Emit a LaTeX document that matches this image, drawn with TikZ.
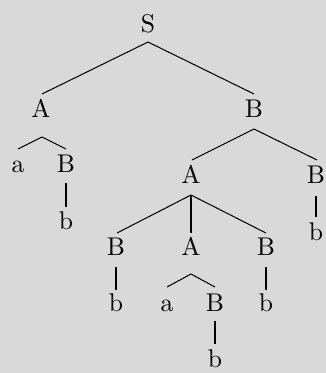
\documentclass[tikz,border=0pt]{standalone}
\usetikzlibrary{calc}
\definecolor{bgc}{RGB}{217,217,217}
\begin{document}
\begin{tikzpicture}[x=0.3906pt,y=-0.3906pt,
  lbl/.style={anchor=base,inner sep=0pt},
  edge/.style={draw=black,line width=0.4pt}]
\fill[bgc] (0,0) rectangle (326,373);
\useasboundingbox (0,0) rectangle (326,373);
% nodes
\node[lbl] (S)  at (148,32)  {S};
\node[lbl] (A1) at (41,117)  {A};
\node[lbl] (B1) at (254,117) {B};
\node[lbl] (a1) at (18,172)  {a};
\node[lbl] (B2) at (66,172)  {B};
\node[lbl] (b1) at (66,229)  {b};
\node[lbl] (A2) at (191,183) {A};
\node[lbl] (B3) at (316,183) {B};
\node[lbl] (b2) at (316,240) {b};
\node[lbl] (B4) at (116,255) {B};
\node[lbl] (A3) at (191,255) {A};
\node[lbl] (B5) at (266,255) {B};
\node[lbl] (b3) at (116,311) {b};
\node[lbl] (a2) at (167,311) {a};
\node[lbl] (B6) at (215,311) {B};
\node[lbl] (b4) at (266,311) {b};
\node[lbl] (b5) at (215,367) {b};
% edges
\draw[edge] ($(S.base)+(0,10)$) -- ($(A1.base)+(1,-23)$);
\draw[edge] ($(S.base)+(0,10)$) -- ($(B1.base)+(0,-23)$);
\draw[edge] ($(A1.base)+(1,20)$) -- ($(a1.base)+(0,-23)$);
\draw[edge] ($(A1.base)+(1,20)$) -- ($(B2.base)+(0,-23)$);
\draw[edge] ($(B2.base)+(0,11)$) -- ($(b1.base)+(0,-22)$);
\draw[edge] ($(B1.base)+(0,12)$) -- ($(A2.base)+(1,-23)$);
\draw[edge] ($(B1.base)+(0,12)$) -- ($(B3.base)+(1,-23)$);
\draw[edge] ($(B3.base)+(0,13)$) -- ($(b2.base)+(0,-23)$);
\draw[edge] ($(A2.base)+(0,12)$) -- ($(B4.base)+(1,-22)$);
\draw[edge] ($(A2.base)+(0,12)$) -- ($(A3.base)+(0,-22)$);
\draw[edge] ($(A2.base)+(0,12)$) -- ($(B5.base)+(0,-22)$);
\draw[edge] ($(B4.base)+(0,12)$) -- ($(b3.base)+(0,-21)$);
\draw[edge] ($(A3.base)+(0,19)$) -- ($(a2.base)+(0,-24)$);
\draw[edge] ($(A3.base)+(0,19)$) -- ($(B6.base)+(0,-24)$);
\draw[edge] ($(B5.base)+(0,12)$) -- ($(b4.base)+(0,-21)$);
\draw[edge] ($(B6.base)+(0,10)$) -- ($(b5.base)+(0,-23)$);
\end{tikzpicture}
\end{document}
